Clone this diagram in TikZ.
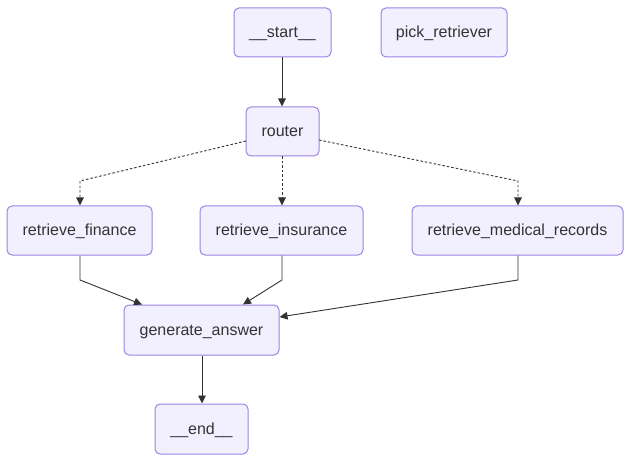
\documentclass[tikz,border=0pt]{standalone}
\usepackage{fontspec}
\setmainfont{Liberation Sans}
\usetikzlibrary{arrows.meta,calc}
\definecolor{nodefill}{HTML}{F2F0FF}
\definecolor{nodedraw}{HTML}{9E82E4}
\definecolor{ink}{HTML}{333333}
\begin{document}
\begin{tikzpicture}[x=1pt,y=-1pt,
  box/.style={draw=nodedraw,fill=nodefill,line width=1pt,rounded corners=5pt,
    inner sep=0pt,minimum height=49pt,text=ink,text height=12pt,text depth=1pt,
    font=\fontsize{16}{19}\selectfont},
  edge/.style={draw=ink,line width=0.9pt,-{Triangle[length=8pt,width=7.5pt]}},
  cond/.style={edge,dash pattern=on 2.5pt off 2pt}]
\useasboundingbox (0,0) rectangle (631,462);
\fill[white] (0,0) rectangle (631,462);
\node[box,minimum width=97pt] (start) at (282.5,32.5) {\_\_start\_\_};
\node[box,minimum width=126pt] (pick) at (444,32.5) {pick\_retriever};
\node[box,minimum width=73pt] (router) at (282.5,131.5) {router};
\node[box,minimum width=145pt] (fin) at (79.5,230.5) {retrieve\_finance};
\node[box,minimum width=163pt] (ins) at (281.5,230.5) {retrieve\_insurance};
\node[box,minimum width=211pt] (med) at (517.5,230.5) {retrieve\_medical\_records};
\node[box,minimum width=155pt,minimum height=50pt] (gen) at (201.5,330) {generate\_answer};
\node[box,minimum width=93pt,minimum height=50pt] (end) at (201.5,429) {\_\_end\_\_};
\coordinate (rl) at (246,141);
\coordinate (rr) at (319,140);
\coordinate (bf) at (80,181);
\coordinate (bm) at (518,181);
\coordinate (cf) at (80,280);
\coordinate (ci) at (282,280);
\coordinate (cm) at (518,280);
\draw[edge] (start.south -| 282,0) -- (router.north -| 282,0);
\draw[cond] (rl) -- (bf) -- (fin.north -| bf);
\draw[cond] (router.south -| 282,0) -- (ins.north -| 282,0);
\draw[cond] (rr) -- (bm) -- (med.north -| bm);
\draw[edge] (fin.south -| cf) -- (cf) -- (gen.north -| 142,0);
\draw[edge] (ins.south -| ci) -- (ci) -- (gen.north -| 243,0);
\draw[edge] (med.south -| cm) -- (cm) -- ($(gen.east)+(0,-13)$);
\draw[edge] (gen.south -| 202,0) -- (end.north -| 202,0);
\end{tikzpicture}
\end{document}
